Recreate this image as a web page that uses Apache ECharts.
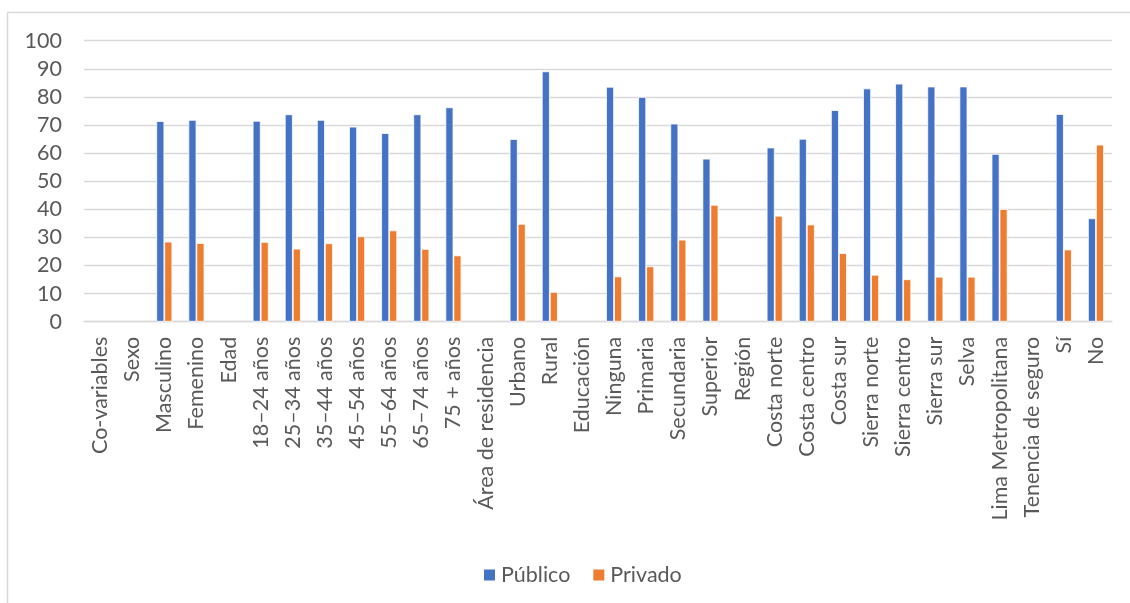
<!DOCTYPE html>
<html>
<head>
<meta charset="utf-8">
<script src="https://cdn.jsdelivr.net/npm/echarts@6/dist/echarts.min.js"></script>
<style>
html,body{margin:0;padding:0;background:#fff;}
#c{width:1130px;height:603px;}
</style>
</head>
<body>
<div id="c"></div>
<script>
const categories = ['Co-variables','Sexo','Masculino','Femenino','Edad','18–24 años','25–34 años','35–44 años','45–54 años','55–64 años','65–74 años','75 + años','Área de residencia','Urbano','Rural','Educación','Ninguna','Primaria','Secundaria','Superior','Región','Costa norte','Costa centro','Costa sur','Sierra norte','Sierra centro','Sierra sur','Selva','Lima Metropolitana','Tenencia de seguro','Sí','No'];
const publico = [null,null,71.4,71.8,null,71.5,73.8,71.8,69.4,67.1,73.8,76.3,null,65.0,89.1,null,83.6,80.0,70.5,58.0,null,62.0,65.1,75.3,83.0,84.7,83.7,83.7,59.7,null,73.9,36.8];
const privado = [null,null,28.5,28.0,null,28.4,26.0,27.9,30.4,32.5,25.9,23.6,null,34.8,10.6,null,16.1,19.7,29.2,41.6,null,37.7,34.6,24.4,16.7,15.1,16.0,16.0,40.1,null,25.7,63.0];
const yTicks = [0,10,20,30,40,50,60,70,80,90,100];

const chart = echarts.init(document.getElementById('c'), null, {renderer:'canvas'});
const font = 'Lato';
const fs = 21.5;
chart.setOption({
  animation:false,
  backgroundColor:'#fff',
  textStyle:{fontFamily:font},
  graphic:[{type:'rect',shape:{x:7.5,y:12.5,width:1200,height:700},style:{fill:'none',stroke:'#d9d9d9',lineWidth:1.5},silent:true}],
  grid:{left:84,right:18,top:40.7,bottom:281.3,containLabel:false},
  legend:{
    data:['Público','Privado'],
    left:477, top:559,
    itemWidth:13, itemHeight:13, itemGap:21,
    icon:'rect',
    textStyle:{fontFamily:font,fontSize:fs,color:'#595959'}
  },
  xAxis:{
    type:'category',
    data:categories,
    axisLine:{lineStyle:{color:'#d9d9d9',width:1.3}},
    axisTick:{show:false},
    axisLabel:{rotate:90,interval:0,margin:15,fontFamily:font,fontSize:fs,color:'#595959'}
  },
  yAxis:{
    type:'value',min:yTicks[0],max:yTicks[yTicks.length-1],interval:10,
    axisLine:{show:false},axisTick:{show:false},
    splitLine:{lineStyle:{color:'#d9d9d9',width:1.3}},
    axisLabel:{margin:22,fontFamily:font,fontSize:fs,color:'#595959'}
  },
  series:[
    {name:'Público',type:'bar',data:publico,barWidth:8,barGap:'0%',itemStyle:{color:'#4472C4',borderColor:'#fff',borderWidth:0.8}},
    {name:'Privado',type:'bar',data:privado,barWidth:8,barGap:'0%',itemStyle:{color:'#ED7D31',borderColor:'#fff',borderWidth:0.8}}
  ]
});
</script>
</body>
</html>
